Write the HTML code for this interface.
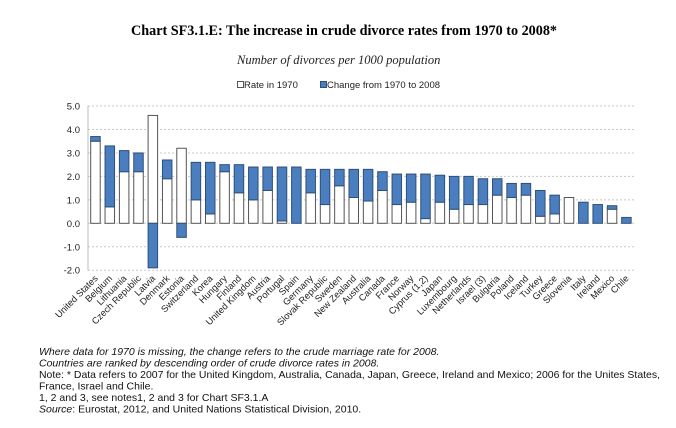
<!DOCTYPE html>
<html><head><meta charset="utf-8"><style>
html,body{margin:0;padding:0;background:#fff;width:676px;height:428px;overflow:hidden}
svg{display:block}
</style></head><body>
<svg id="c" width="676" height="428" xmlns="http://www.w3.org/2000/svg" font-family="Liberation Sans, Arial, sans-serif">
<text x="131" y="35" font-family="Liberation Serif, serif" font-weight="bold" font-size="14.2" fill="#000" textLength="426" lengthAdjust="spacingAndGlyphs">Chart SF3.1.E: The increase in crude divorce rates from 1970 to 2008*</text>
<text x="237" y="64" font-family="Liberation Serif, serif" font-style="italic" font-size="12.5" fill="#222">Number of divorces per 1000 population</text>
<rect x="237.5" y="81.5" width="6" height="6" fill="#fff" stroke="#555"/>
<text x="244" y="88" font-size="9.5" fill="#222">Rate in 1970</text>
<rect x="320.5" y="81.5" width="6" height="6" fill="#4a7ebf" stroke="#2f4f7a"/>
<text x="327" y="88" font-size="9.5" fill="#222">Change from 1970 to 2008</text>
<g id="grid"></g>
<g id="bars"></g>
<g id="labels" font-size="9.3" fill="#222"></g>
<g font-size="10.5" fill="#111">
<text x="39" y="355" font-style="italic">Where data for 1970 is missing, the change refers to the crude marriage rate for 2008.</text>
<text x="39" y="366.5" font-style="italic">Countries are ranked by descending order of crude divorce rates in 2008.</text>
<text x="39" y="378" textLength="621" lengthAdjust="spacingAndGlyphs">Note: * Data refers to 2007 for the United Kingdom, Australia, Canada, Japan, Greece, Ireland and Mexico; 2006 for the Unites States,</text>
<text x="39" y="389.5">France, Israel and Chile.</text>
<text x="39" y="401">1, 2 and 3, see notes1, 2 and 3 for Chart SF3.1.A</text>
<text x="39" y="412.5"><tspan font-style="italic">Source</tspan>: Eurostat, 2012, and United Nations Statistical Division, 2010.</text>
</g>
</svg>
<script>
var NS="http://www.w3.org/2000/svg";
function el(t,a,p,txt){var e=document.createElementNS(NS,t);for(var k in a)e.setAttribute(k,a[k]);if(txt)e.textContent=txt;document.getElementById(p).appendChild(e);return e;}
var y0=223.3,u=23.45,L=88,R=634;
function Y(v){return y0-v*u;}
for(var v=-2;v<=5;v++){
 el("line",{x1:L,x2:R,y1:Y(v),y2:Y(v),stroke:"#c8c8c8","stroke-width":1,"stroke-dasharray":"2,2"},"grid");
 el("text",{x:80,y:Y(v)+3.5,"text-anchor":"end","font-size":"9.5",fill:"#222"},"grid",(v<0?"-":"")+Math.abs(v).toFixed(1));
}
el("line",{x1:L,x2:L,y1:Y(5),y2:Y(-2),stroke:"#bbb"},"grid");
var d=[["United States",3.5,3.7],["Belgium",0.7,3.3],["Lithuania",2.2,3.1],["Czech Republic",2.2,3.0],["Latvia",4.6,-1.9],["Denmark",1.9,2.7],["Estonia",3.2,-0.6],["Switzerland",1.0,2.6],["Korea",0.4,2.6],["Hungary",2.2,2.5],["Finland",1.3,2.5],["United Kingdom",1.0,2.4],["Austria",1.4,2.4],["Portugal",0.1,2.4],["Spain",0,2.4],["Germany",1.3,2.3],["Slovak Republic",0.8,2.3],["Sweden",1.6,2.3],["New Zealand",1.1,2.3],["Australia",0.95,2.3],["Canada",1.4,2.2],["France",0.8,2.1],["Norway",0.9,2.1],["Cyprus (1,2)",0.2,2.1],["Japan",0.9,2.05],["Luxembourg",0.6,2.0],["Netherlands",0.8,2.0],["Israel (3)",0.8,1.9],["Bulgaria",1.2,1.9],["Poland",1.1,1.7],["Iceland",1.2,1.7],["Turkey",0.3,1.4],["Greece",0.4,1.2],["Slovenia",1.1,1.1],["Italy",0,0.9],["Ireland",0,0.8],["Mexico",0.6,0.75],["Chile",0,0.25]];
var sp=14.35,w=9.5;
d.forEach(function(r,i){
 var x=90.7+i*sp,b=r[1],t=r[2];
 if(t<0){
  el("rect",{x:x,y:Y(b),width:w,height:b*u,fill:"#fff",stroke:"#555","stroke-width":1},"bars");
  el("rect",{x:x,y:y0,width:w,height:-t*u,fill:"#4a7ebf",stroke:"#2f4f7a","stroke-width":1},"bars");
 }else{
  if(b>0)el("rect",{x:x,y:Y(b),width:w,height:b*u,fill:"#fff",stroke:"#555","stroke-width":1},"bars");
  if(t>b)el("rect",{x:x,y:Y(t),width:w,height:(t-b)*u,fill:"#4a7ebf",stroke:"#2f4f7a","stroke-width":1},"bars");
 }
 var cx=x+w/2+3,cy=279;
 el("text",{x:cx,y:cy,"text-anchor":"end",transform:"rotate(-45 "+cx+" "+cy+")"},"labels",r[0]);
});
</script>
</body></html>
